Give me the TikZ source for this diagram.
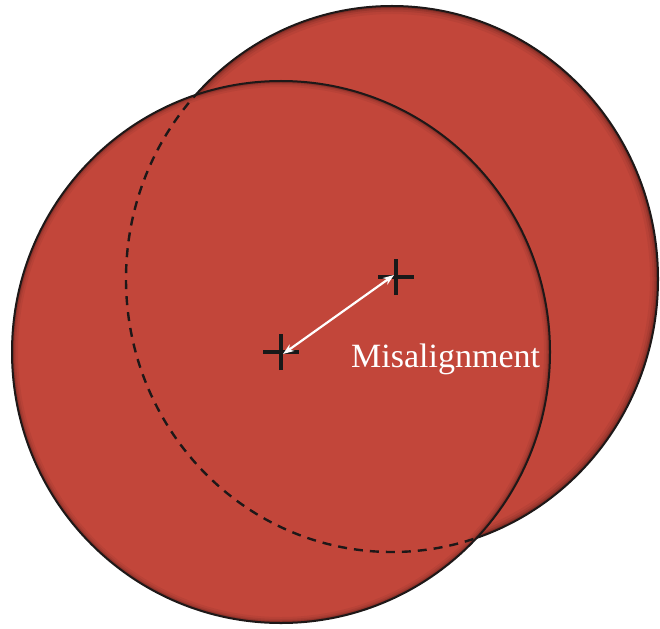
\documentclass[tikz,border=0pt]{standalone}
\usepackage{fontspec}
\setmainfont{Liberation Serif}
\usetikzlibrary{arrows.meta}
\definecolor{disc}{RGB}{194,70,58}
\definecolor{rim}{RGB}{30,24,24}
\tikzset{
  discfill/.style={fill=disc},
  rimline/.style={draw=rim, line width=2pt},
  hiddenrim/.style={draw=rim, line width=2.4pt, dash pattern=on 9pt off 7pt},
  crossmark/.style={draw=black!90, line width=3.4pt},
  gap/.style={draw=white, line width=2.2pt, {Stealth[length=11pt,width=8pt]}-{Stealth[length=11pt,width=8pt]}},
  label/.style={text=white, font=\fontsize{34}{38}\selectfont, inner sep=0pt, anchor=base west}
}
\newcommand{\backdisc}{(cb) ellipse [x radius=266pt, y radius=273pt]}
\newcommand{\frontdisc}{(cf) ellipse [x radius=269pt, y radius=271pt]}
\begin{document}
\begin{tikzpicture}[x=1pt,y=-1pt]
\useasboundingbox (0,0) rectangle (660,628);
\coordinate (cb) at (392,279);
\coordinate (cf) at (281,352);
\coordinate (xb) at (396,277);
\coordinate (xf) at (281,352);
% back disc
\fill[discfill] \backdisc;
\begin{scope}
  \clip \backdisc;
  \foreach \w/\o in {16/0.05,11/0.07,7/0.10,4/0.16} \draw[black,opacity=\o,line width=\w pt] \backdisc;
\end{scope}
\draw[rimline] \backdisc;
% front disc
\fill[discfill] \frontdisc;
\begin{scope}
  \clip \frontdisc;
  \foreach \w/\o in {12/0.05,8/0.07,5/0.10,3/0.14} \draw[black,opacity=\o,line width=\w pt] \frontdisc;
  \draw[hiddenrim] \backdisc;
\end{scope}
\draw[rimline] \frontdisc;
% crosses
\draw[crossmark] ([xshift=-18pt]xf) -- ([xshift=18pt]xf);
\draw[crossmark] ([yshift=-18pt]xf) -- ([yshift=18pt]xf);
\draw[crossmark] ([xshift=-18pt]xb) -- ([xshift=18pt]xb);
\draw[crossmark] ([yshift=-18pt]xb) -- ([yshift=18pt]xb);
% misalignment arrow
\draw[gap] ([shift={(2pt,-2pt)}]xf) -- ([shift={(-2pt,2pt)}]xb);
\node[label] (lab) at (351,367) {Misalignment};
\end{tikzpicture}
\end{document}
